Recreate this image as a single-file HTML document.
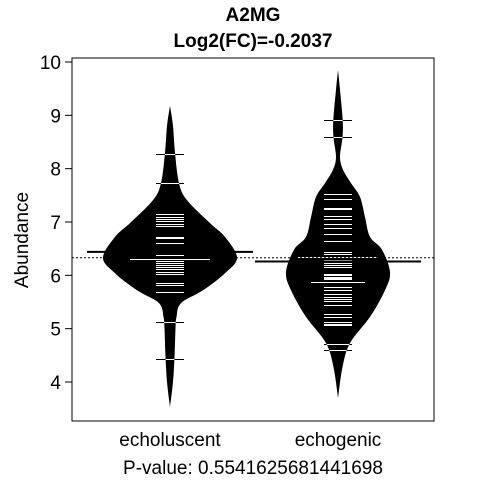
<!DOCTYPE html>
<html><head><meta charset="utf-8"><style>
body{margin:0;background:#fff}
svg{display:block;font-family:"Liberation Sans",Arial,sans-serif}
</style></head><body>
<svg id="chart" width="480" height="480">
<defs id="defs"></defs>
<text x="253" y="21" text-anchor="middle" font-size="19" font-weight="bold">A2MG</text>
<text x="253" y="47" text-anchor="middle" font-size="19" font-weight="bold">Log2(FC)=-0.2037</text>
<text transform="translate(28,240) rotate(-90)" text-anchor="middle" font-size="19">Abundance</text>
<text x="253" y="474" text-anchor="middle" font-size="19">P-value: 0.5541625681441698</text>
<g id="g"></g>
<rect x="72" y="58" width="362" height="363" fill="none" stroke="#000" stroke-width="1"/>
</svg>
<script>
const categories=["echoluscent","echogenic"];
const yTicks=[4,5,6,7,8,9,10];
const values1=[8.27,7.73,7.15,7.10,7.05,7.01,6.96,6.93,6.72,6.70,6.60,6.46,6.38,6.26,6.24,6.20,6.16,6.11,6.06,6.03,5.85,5.81,5.68,5.12,4.43];
const values2=[8.91,8.59,7.52,7.43,7.27,7.24,7.12,7.05,6.96,6.88,6.77,6.65,6.44,6.40,6.29,6.26,6.23,6.19,6.15,6.02,6.00,5.97,5.95,5.93,5.79,5.72,5.65,5.60,5.56,5.52,5.44,5.27,5.22,5.12,5.09,5.06,4.72,4.60];
const densV1=[3.53,4.0,4.47,5.0,5.22,5.48,5.72,6.04,6.33,6.72,6.98,7.41,7.73,8.3,8.8,9.18];
const densW1=[0,3,4.5,5.5,6.5,11,33,55,67,55,40,17,9,5,3,0];
const densV2=[3.70,4.28,4.73,5.22,5.72,6.06,6.48,6.72,7.09,7.47,7.73,7.98,8.22,8.59,8.91,9.48,9.85];
const densW2=[0,4.5,12,32,47,52,44,32,27,22,13,5,2,4.5,4.7,2,0];
const groupMeans=[6.44,6.26];
const beanLines=[6.30,6.34];
const beanMedians=[null,5.875];
const overallMean=6.33;

const y=v=>382-(v-4)*53.333;
const yl=v=>Math.round(y(v))+0.5;
const xc=i=>170+i*168;
const ns="http://www.w3.org/2000/svg";
const g=document.getElementById('g');
const defs=document.getElementById('defs');
function mk(t,a,par){const e=document.createElementNS(ns,t);for(const k in a)e.setAttribute(k,a[k]);(par||g).appendChild(e);return e;}
function smooth(pts){
 let d='M'+pts[0][0]+','+pts[0][1];
 for(let i=0;i<pts.length-1;i++){
  const p0=pts[Math.max(0,i-1)],p1=pts[i],p2=pts[i+1],p3=pts[Math.min(pts.length-1,i+2)];
  const c1=[p1[0]+(p2[0]-p0[0])/6,p1[1]+(p2[1]-p0[1])/6];
  const c2=[p2[0]-(p3[0]-p1[0])/6,p2[1]-(p3[1]-p1[1])/6];
  d+=' C'+c1.join(',')+' '+c2.join(',')+' '+p2.join(',');
 }
 return d;
}

yTicks.forEach(t=>{
 const l=mk('line',{x1:65,x2:72,y1:y(t),y2:y(t),stroke:'#000'});
 
 
 const tx=mk('text',{x:61,y:y(t)+7,'text-anchor':'end','font-size':19});tx.textContent=t;
 
 
});
categories.forEach((c,i)=>{
 const t=mk('text',{x:xc(i),y:446,'text-anchor':'middle','font-size':19});t.textContent=c;
 
 
});
const dens=[[densV1,densW1],[densV2,densW2]];
const vals=[values1,values2];
dens.forEach((d,i)=>{
 const [vs,ws]=d;
 const R=[],L=[];
 for(let k=0;k<vs.length;k++){R.push([xc(i)+ws[k],y(vs[k])]);L.push([xc(i)-ws[k],y(vs[k])]);}
 const dp=smooth(R)+' '+smooth(L.reverse()).replace('M','L')+' Z';
 const cp=mk('clipPath',{id:'clip'+i},defs);
 mk('path',{d:dp},cp);
 const p=mk('path',{d:dp,fill:'#000'});
 
 
 vals[i].forEach(v=>{
  const b=mk('line',{x1:xc(i)-14,x2:xc(i)+14,y1:yl(v),y2:yl(v),stroke:'#000','stroke-width':1,'shape-rendering':'crispEdges'});
  
  
 });
 const wg=mk('g',{'clip-path':'url(#clip'+i+')','shape-rendering':'crispEdges'});
 vals[i].forEach(v=>{
  const l=mk('line',{x1:xc(i)-14,x2:xc(i)+14,y1:yl(v),y2:yl(v),stroke:'#fff','stroke-width':1},wg);
  
  
 });
 const m=mk('line',{x1:xc(i)-40,x2:xc(i)+40,y1:yl(beanLines[i]),y2:yl(beanLines[i]),stroke:'#fff','stroke-width':1},wg);
 
 
 if(beanMedians[i]!==null){
  const md=mk('line',{x1:xc(i)-27,x2:xc(i)+27,y1:yl(beanMedians[i]),y2:yl(beanMedians[i]),stroke:'#fff','stroke-width':1},wg);
  
  
 }
 const gm=mk('line',{x1:xc(i)-83,x2:xc(i)+83,y1:y(groupMeans[i]),y2:y(groupMeans[i]),stroke:'#000','stroke-width':2});
 
 
});
const om=mk('line',{x1:72,x2:434,y1:y(overallMean),y2:y(overallMean),stroke:'#000','stroke-width':1,'stroke-dasharray':'2,2'});


</script>
</body></html>
